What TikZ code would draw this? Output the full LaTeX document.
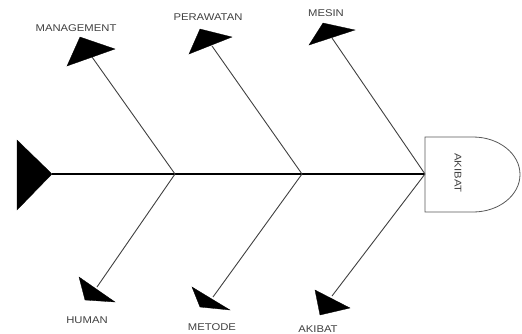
\documentclass[tikz,border=0pt]{standalone}
\usepackage{fontspec}
\setmainfont{Liberation Sans}
\begin{document}
\begin{tikzpicture}[x=1pt,y=-1pt,
  bone/.style={draw=black!75,line width=0.9pt},
  spine/.style={draw=black,line width=1.4pt},
  head/.style={fill=black,draw=black,line width=0.3pt},
  lbl/.style={text=black!75,font=\fontsize{9.8}{11}\selectfont,inner sep=0pt},
  box/.style={draw=black!65,line width=0.8pt}]
\useasboundingbox (0,0) rectangle (522,333);
% junction coordinates
\coordinate (j1) at (175,174);
\coordinate (j2) at (302,174);
\coordinate (j3) at (425,174);
\coordinate (tail) at (52,174);
% bone ends
\coordinate (e1) at (92,57);
\coordinate (e2) at (212,46);
\coordinate (e3) at (332,38);
\coordinate (e4) at (97,287);
\coordinate (e5) at (213,297);
\coordinate (e6) at (332,296);
% spine
\draw[spine] (tail) -- (j3);
% bones
\draw[bone] (j1) -- (e1);
\draw[bone] (j2) -- (e2);
\draw[bone] (j3) -- (e3);
\draw[bone] (j1) -- (e4);
\draw[bone] (j2) -- (e5);
\draw[bone] (j3) -- (e6);
% tail triangle
\filldraw[head] (17,140) -- (tail) -- (17,210) -- cycle;
% heads
\filldraw[head] (80,37) -- (115,49) -- (67,66) -- cycle;
\filldraw[head] (200,29) -- (232,37) -- (189,54) -- cycle;
\filldraw[head] (323,23) -- (355,30) -- (309,45) -- cycle;
\filldraw[head] (79,277) -- (115,302) -- (85,300) -- cycle;
\filldraw[head] (192,287) -- (230,310) -- (200,307) -- cycle;
\filldraw[head] (315,290) -- (350,308) -- (320,315) -- cycle;
% effect box
\draw[box] (473,137) -- (425,137) -- (425,212) -- (473,212)
  arc[start angle=90,end angle=-90,x radius=47,y radius=37.5];
\node[lbl,rotate=-90] (akb) at (458,173) {\scalebox{1.15}[1]{AKIBAT}};
% labels
\node[lbl] (l1) at (76,28) {\scalebox{1.15}[1]{MANAGEMENT}};
\node[lbl] (l2) at (208,17) {\scalebox{1.15}[1]{PERAWATAN}};
\node[lbl] (l3) at (326,13) {\scalebox{1.15}[1]{MESIN}};
\node[lbl] (l4) at (87,320) {\scalebox{1.15}[1]{HUMAN}};
\node[lbl] (l5) at (212,327) {\scalebox{1.15}[1]{METODE}};
\node[lbl] (l6) at (318,329) {\scalebox{1.15}[1]{AKIBAT}};
\end{tikzpicture}
\end{document}
